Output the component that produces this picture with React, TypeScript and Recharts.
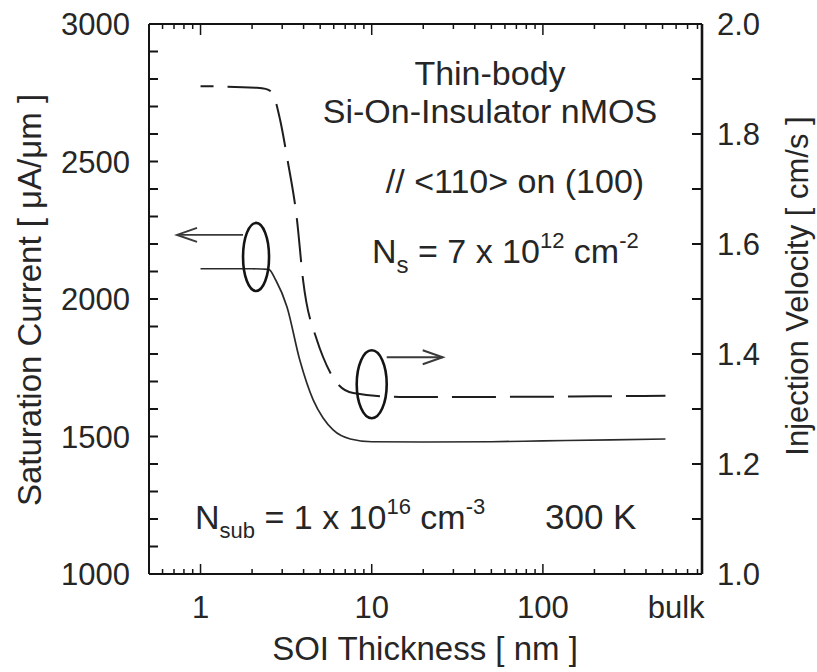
import React from 'react';
import { LineChart, Line, XAxis, YAxis, ReferenceDot } from 'recharts';

const FONT = '"Liberation Sans", Arial, Helvetica, sans-serif';
const INK = '#141414';
const TEXT = '#262626';

// solid curve: saturation current [uA/um] vs SOI thickness [nm] (left axis)
const currentThickness = [1, 2.0, 2.5, 2.75, 3.2, 3.8, 4.55, 5.2, 5.95, 7.5, 10, 20, 50, 100, 250, 520];
const currentValues = [2110, 2110, 2108, 2069, 1971, 1778, 1633, 1567, 1524, 1491, 1481, 1480, 1481, 1484, 1488, 1491];

// dashed curve: injection velocity [1e7 cm/s] (right axis)
const velocityThickness = [1, 2.14, 2.4, 2.62, 2.92, 3.2, 3.66, 3.97, 4.79, 5.19, 6.28, 7.8, 14.6, 50, 200, 520];
const velocityValues = [1.887, 1.884, 1.882, 1.875, 1.825, 1.758, 1.644, 1.535, 1.425, 1.395, 1.347, 1.329, 1.322, 1.322, 1.323, 1.324];

// log axis ticks, "bulk" sits at the 600 nm position
const xTicks = [0.5, 0.6, 0.7, 0.8, 0.9, 1, 2, 3, 4, 5, 6, 7, 8, 9, 10, 20, 30, 40, 50, 60, 70, 80, 90, 100, 200, 300, 400, 500, 600, 700, 800];
const xMajor = [1, 10, 100];
const xLabels: Record<number, string> = { 1: '1', 10: '10', 100: '100', 600: 'bulk' };

const leftTicks = [1000, 1100, 1200, 1300, 1400, 1500, 1600, 1700, 1800, 1900, 2000, 2100, 2200, 2300, 2400, 2500, 2600, 2700, 2800, 2900, 3000];
const leftLabels = [1000, 1500, 2000, 2500, 3000];
const rightTicks = [1.0, 1.1, 1.2, 1.3, 1.4, 1.5, 1.6, 1.7, 1.8, 1.9, 2.0];
const rightLabels = [1.0, 1.2, 1.4, 1.6, 1.8, 2.0];

const currentData = currentThickness.map((t, i) => ({ t, i: currentValues[i] }));
const velocityData = velocityThickness.map((t, i) => ({ t, v: velocityValues[i] }));

const BottomTick = (props: any) => {
  const { x, y, payload } = props;
  const v = payload.value;
  const len = xMajor.includes(v) ? 10 : 5;
  const label = xLabels[v];
  return (
    <g>
      <line x1={x} x2={x} y1={y} y2={y - len} stroke={INK} strokeWidth={1.5} />
      {label && (
        <text x={x} y={y + 44} textAnchor="middle" fontSize={31} fill={TEXT} fontFamily={FONT}>
          {label}
        </text>
      )}
    </g>
  );
};

const TopTick = (props: any) => {
  const { x, y, payload } = props;
  const len = xMajor.includes(payload.value) ? 11 : 5;
  return <line x1={x} x2={x} y1={y} y2={y + len} stroke={INK} strokeWidth={1.5} />;
};

const LeftTick = (props: any) => {
  const { x, y, payload } = props;
  const v = payload.value;
  return (
    <g>
      <line x1={x} x2={x + 9} y1={y} y2={y} stroke={INK} strokeWidth={2} />
      {leftLabels.includes(v) && (
        <text x={x - 19} y={y + 11} textAnchor="end" fontSize={31} fill={TEXT} fontFamily={FONT}>
          {v}
        </text>
      )}
    </g>
  );
};

const RightTick = (props: any) => {
  const { x, y, payload } = props;
  const v = payload.value;
  const labelled = rightLabels.some((r) => Math.abs(r - v) < 1e-6);
  return (
    <g>
      <line x1={x} x2={x - 10} y1={y} y2={y} stroke={INK} strokeWidth={2} />
      {labelled && (
        <text x={x + 15} y={y + 11} textAnchor="start" fontSize={31} fill={TEXT} fontFamily={FONT}>
          {v.toFixed(1)}
        </text>
      )}
    </g>
  );
};

// ellipse grouping a curve with an arrow pointing to its axis
const Marker = ({ cx, cy, rx, ry, dir, dy, len }: any) => {
  const x0 = cx + dir * rx;
  const tip = x0 + dir * len;
  const ay = cy + dy;
  return (
    <g fill="none" stroke={INK}>
      <ellipse cx={cx} cy={cy} rx={rx} ry={ry} strokeWidth={2.6} />
      <line x1={x0} y1={ay} x2={tip} y2={ay} strokeWidth={1.8} stroke="#3a3a3a" />
      <path d={`M ${tip - dir * 20} ${ay - 7} L ${tip} ${ay} L ${tip - dir * 20} ${ay + 7}`} strokeWidth={2} stroke="#3a3a3a" />
    </g>
  );
};

const Notes = () => (
  <svg width={817} height={672} style={{ position: 'absolute', left: 0, top: 0, pointerEvents: 'none' }} fontFamily={FONT} fill={TEXT}>
    <text x={490} y={85} textAnchor="middle" fontSize={34}>Thin-body</text>
    <text x={490} y={123} textAnchor="middle" fontSize={34}>Si-On-Insulator nMOS</text>
    <text x={515} y={193} textAnchor="middle" fontSize={34}>// &lt;110&gt; on (100)</text>
    <text x={372} y={263} fontSize={34}>
      N<tspan fontSize={24} dy={10}>s</tspan>
      <tspan dy={-10}> = 7 x 10</tspan>
      <tspan fontSize={22} dy={-15}>12</tspan>
      <tspan dy={15}> cm</tspan>
      <tspan fontSize={22} dy={-15}>-2</tspan>
    </text>
    <text x={195} y={529} fontSize={34}>
      N<tspan fontSize={22} dy={9}>sub</tspan>
      <tspan dy={-9}> = 1 x 10</tspan>
      <tspan fontSize={22} dy={-15}>16</tspan>
      <tspan dy={15}> cm</tspan>
      <tspan fontSize={22} dy={-15}>-3</tspan>
    </text>
    <text x={545} y={529} fontSize={35}>300 K</text>

    <text x={425} y={660} textAnchor="middle" fontSize={33}>SOI Thickness  [ nm ]</text>
    <text transform="translate(41 300) rotate(-90)" textAnchor="middle" fontSize={33}>Saturation Current  [ μA/μm ]</text>
    <text transform="translate(808 286) rotate(-90)" textAnchor="middle" fontSize={31}>Injection Velocity  [ cm/s ]</text>
  </svg>
);

export default function App() {
  return (
    <div style={{ position: 'absolute', left: 0, top: 0, width: 817, height: 672, background: '#fff' }}>
      <LineChart width={817} height={672} margin={{ top: 23, right: 0, bottom: 0, left: 0 }}>
        <XAxis
          xAxisId="b"
          dataKey="t"
          type="number"
          scale="log"
          domain={[0.5, 850]}
          allowDataOverflow
          ticks={xTicks}
          interval={0}
          tick={BottomTick}
          tickLine={false}
          tickSize={0}
          tickMargin={0}
          height={98}
          axisLine={{ stroke: INK, strokeWidth: 2 }}
        />
        <XAxis
          xAxisId="t"
          dataKey="t"
          orientation="top"
          type="number"
          scale="log"
          domain={[0.5, 850]}
          allowDataOverflow
          ticks={xTicks}
          interval={0}
          tick={TopTick}
          tickLine={false}
          tickSize={0}
          tickMargin={0}
          height={1}
          axisLine={{ stroke: INK, strokeWidth: 2 }}
        />
        <YAxis
          yAxisId="left"
          type="number"
          domain={[1000, 3000]}
          allowDataOverflow
          ticks={leftTicks}
          interval={0}
          tick={LeftTick}
          tickLine={false}
          tickSize={0}
          tickMargin={0}
          width={149}
          axisLine={{ stroke: INK, strokeWidth: 2 }}
        />
        <YAxis
          yAxisId="right"
          orientation="right"
          type="number"
          domain={[1.0, 2.0]}
          allowDataOverflow
          ticks={rightTicks}
          interval={0}
          tick={RightTick}
          tickLine={false}
          tickSize={0}
          tickMargin={0}
          width={115}
          axisLine={{ stroke: INK, strokeWidth: 2.6 }}
        />
        <Line
          xAxisId="b"
          yAxisId="left"
          data={currentData}
          dataKey="i"
          type="monotone"
          dot={false}
          stroke="#2a2a2a"
          strokeWidth={1.7}
          isAnimationActive={false}
        />
        <Line
          xAxisId="b"
          yAxisId="right"
          data={velocityData}
          dataKey="v"
          type="monotone"
          dot={false}
          stroke="#1e1e1e"
          strokeWidth={2}
          strokeDasharray="44 14"
          strokeDashoffset={31}
          isAnimationActive={false}
        />
        <ReferenceDot
          xAxisId="b"
          yAxisId="left"
          x={2.11}
          y={2153}
          r={0}
          ifOverflow="visible"
          shape={(p: any) => <Marker cx={p.cx} cy={p.cy} rx={13} ry={34} dir={-1} dy={-22} len={66} />}
        />
        <ReferenceDot
          xAxisId="b"
          yAxisId="right"
          x={10}
          y={1.345}
          r={0}
          ifOverflow="visible"
          shape={(p: any) => <Marker cx={p.cx} cy={p.cy} rx={15} ry={34} dir={1} dy={-27} len={56} />}
        />
      </LineChart>
      <Notes />
    </div>
  );
}
